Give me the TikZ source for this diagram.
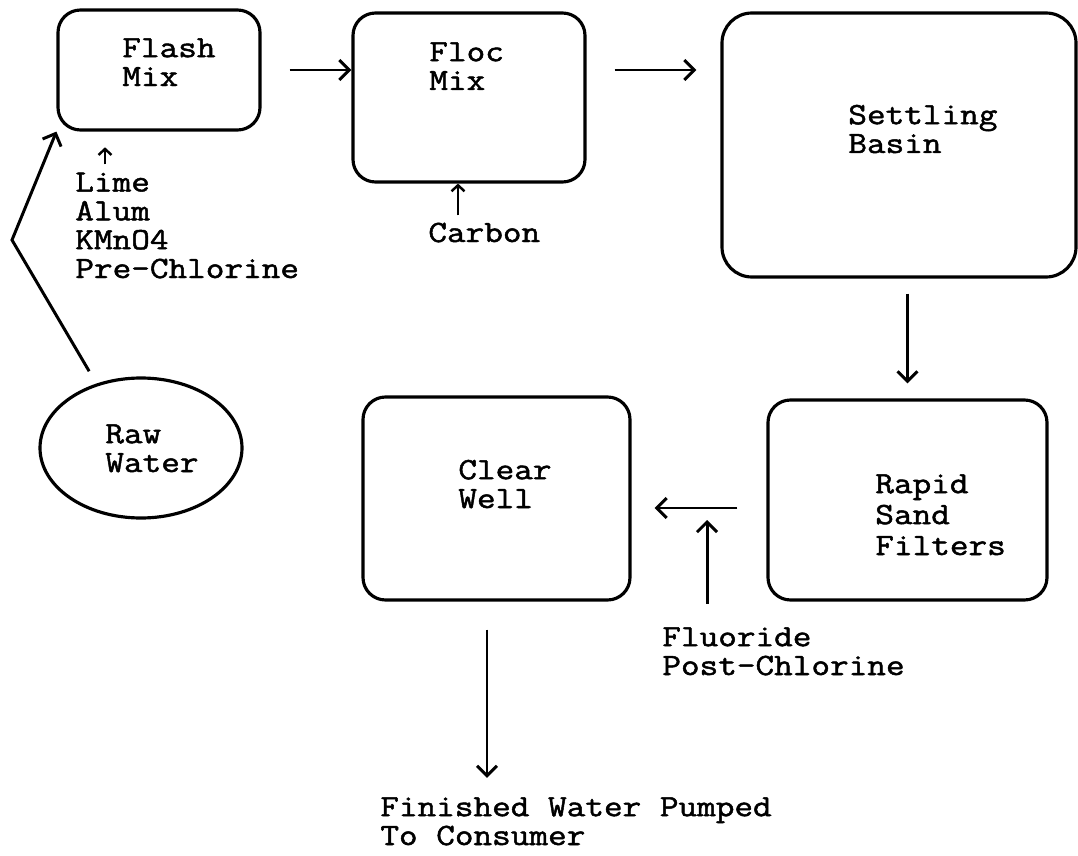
\documentclass[tikz,border=0pt]{standalone}
\usepackage{fontspec}
\setmainfont[FakeStretch=1.17, FakeBold=1.6]{Latin Modern Mono}
\usetikzlibrary{arrows.meta,calc,shapes.geometric}

\begin{document}
\begin{tikzpicture}[
    font=\fontsize{17.6pt}{16.4pt}\selectfont,
    stage/.style={draw, line width=1.8pt, rounded corners=0.45cm, inner sep=0pt},
    tag/.style={align=left, inner sep=0pt, anchor=base west},
    arrow/.style={-{Straight Barb[length=0.2cm,width=0.4cm]}, line width=1.7pt},
    feed/.style={-{Straight Barb[length=0.12cm,width=0.26cm]}, line width=1.4pt}
]
    \useasboundingbox (0,0) rectangle (21.56,-17.12);

    % treatment stages
    \node[stage, minimum width=4.04cm, minimum height=2.40cm] (flash) at (3.18,-1.40) {};
    \node[stage, minimum width=4.64cm, minimum height=3.38cm] (floc) at (9.38,-1.95) {};
    \node[stage, minimum width=7.08cm, minimum height=5.28cm, rounded corners=0.6cm] (settle) at (17.98,-2.90) {};
    \node[stage, minimum width=5.58cm, minimum height=4.00cm] (rapid) at (18.15,-10.00) {};
    \node[stage, minimum width=5.34cm, minimum height=4.06cm] (clear) at (9.93,-9.97) {};
    \node[draw, ellipse, line width=1.8pt, minimum width=4.04cm, minimum height=2.80cm] (raw) at (2.82,-8.96) {};

    % labels sit on the baseline of their last line
    \node[tag] (flashtxt) at (2.44,-1.72) {Flash\\Mix};
    \node[tag] (floctxt) at (8.58,-1.80) {Floc\\Mix};
    \node[tag] (settletxt) at (16.96,-3.06) {Settling\\Basin};
    \node[tag] (rawtxt) at (2.10,-9.44) {Raw\\Water};
    \node[tag] (cleartxt) at (9.16,-10.16) {Clear\\Well};
    \node[tag, font=\fontsize{17.6pt}{17.6pt}\selectfont] (rapidtxt) at (17.50,-11.10) {Rapid\\Sand\\Filters};

    % chemicals and outlet
    \node[tag] (chem) at (1.50,-5.56) {Lime\\Alum\\KMnO4\\Pre-Chlorine};
    \node[tag] (carbon) at (8.56,-4.84) {Carbon};
    \node[tag] (fluor) at (13.24,-13.50) {Fluoride\\Post-Chlorine};
    \node[tag] (finish) at (7.60,-16.90) {Finished Water Pumped\\To Consumer};

    \coordinate (bend) at (0.24,-4.80);
    \coordinate (dose) at (14.14,-10.40);

    \draw[arrow] ([yshift=0.3cm]raw.130) -- (bend) -- (flash.south west);
    \draw[arrow] ([xshift=0.56cm]flash.east) -- (flash.east -| floc.west);
    \draw[arrow] ([xshift=0.56cm]flash.east -| floc.east) -- ([xshift=-0.48cm]flash.east -| settle.west);
    \draw[arrow] ([yshift=-0.3cm]settle.south -| rapid.north) -- ([yshift=0.3cm]rapid.north);
    \draw[arrow] ([xshift=-0.58cm,yshift=-0.16cm]rapid.west) -- ([xshift=0.46cm,yshift=-0.16cm]rapid.west -| clear.east);
    \draw[arrow] ([yshift=0.46cm]fluor.north -| dose) -- (dose);
    \draw[arrow] ([xshift=-0.19cm,yshift=-0.56cm]clear.south) -- ([xshift=-0.19cm,yshift=0.38cm]clear.south |- finish.north);

    \draw[feed] ([xshift=0.6cm,yshift=0.16cm]chem.north west) -- ([xshift=0.6cm,yshift=0.5cm]chem.north west);
    \draw[feed] ([xshift=0.6cm,yshift=0.14cm]carbon.north west) -- ([xshift=0.6cm]carbon.north west |- floc.south);
\end{tikzpicture}
\end{document}
